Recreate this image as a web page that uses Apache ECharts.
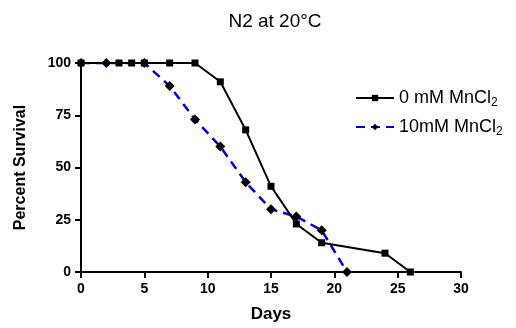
<!DOCTYPE html>
<html>
<head>
<meta charset="utf-8">
<script src="https://cdn.jsdelivr.net/npm/echarts@6/dist/echarts.min.js"></script>
<style>
  html, body { margin: 0; padding: 0; background: #fff; }
  #chart { width: 516px; height: 328px; }
</style>
</head>
<body>
<div id="chart"></div>
<script>
// survival data
const daysCtrl = [0, 3, 4, 5, 7, 9, 11, 13, 15, 17, 19, 24, 26];
const survCtrl = [100, 100, 100, 100, 100, 100, 91, 68, 41, 23, 14, 9, 0];
const daysMn = [0, 2, 5, 7, 9, 11, 13, 15, 17, 19, 21];
const survMn = [100, 100, 100, 89, 73, 60, 43, 30, 26.5, 20, 0];
const seriesNames = ['0 mM MnCl2', '10mM MnCl2'];
const xTicks = [0, 5, 10, 15, 20, 25, 30];
const yTicks = [0, 25, 50, 75, 100];

const chart = echarts.init(document.getElementById('chart'));
const font = 'Liberation Sans, Arial, sans-serif';

const axisCommon = {
  axisLine: { show: true, lineStyle: { color: '#000', width: 2 } },
  axisTick: { show: true, length: 6, lineStyle: { color: '#000', width: 2 } },
  splitLine: { show: false },
  axisLabel: { color: '#000', fontWeight: 'bold', fontSize: 14, fontFamily: font }
};

chart.setOption({
  animation: false,
  title: {
    text: 'N2 at 20\u00B0C',
    left: 270,
    textAlign: 'center',
    top: 7,
    textStyle: { fontSize: 19, fontWeight: 'normal', color: '#000', fontFamily: font }
  },
  grid: { left: 81, right: 55, top: 63, bottom: 55 },
  legend: {
    orient: 'vertical',
    left: 350,
    top: 84,
    itemWidth: 38,
    itemHeight: 8,
    itemGap: 9,
    data: seriesNames,
    formatter: (n) => '{a|' + n.slice(0, -1) + '}{s|2}',
    textStyle: {
      color: '#000',
      fontFamily: font,
      rich: {
        a: { fontSize: 18, color: '#000', fontFamily: font },
        s: { fontSize: 12, color: '#000', fontFamily: font, padding: [10, 0, 0, 0] }
      }
    }
  },
  xAxis: Object.assign({}, axisCommon, {
    type: 'value',
    min: xTicks[0],
    max: xTicks[xTicks.length - 1],
    interval: 5,
    name: 'Days',
    nameLocation: 'middle',
    nameGap: 34,
    nameTextStyle: { fontWeight: 'bold', fontSize: 17, color: '#000', fontFamily: font },
    axisLabel: Object.assign({}, axisCommon.axisLabel, { margin: 10 })
  }),
  yAxis: Object.assign({}, axisCommon, {
    type: 'value',
    min: yTicks[0],
    max: yTicks[yTicks.length - 1],
    interval: 25,
    name: 'Percent Survival',
    nameLocation: 'middle',
    nameGap: 52,
    nameTextStyle: { fontWeight: 'bold', fontSize: 16, color: '#000', fontFamily: font },
    axisLabel: Object.assign({}, axisCommon.axisLabel, { margin: 10 })
  }),
  series: [
    {
      name: seriesNames[0],
      type: 'line',
      data: daysCtrl.map((d, i) => [d, survCtrl[i]]),
      symbol: 'rect',
      symbolSize: 7,
      itemStyle: { color: '#000' },
      lineStyle: { color: '#000', width: 2 },
      z: 3
    },
    {
      name: seriesNames[1],
      type: 'line',
      data: daysMn.map((d, i) => [d, survMn[i]]),
      symbol: 'diamond',
      symbolSize: 10,
      itemStyle: { color: '#000' },
      lineStyle: { color: '#0000cc', width: 2.5, type: [9, 6] },
      z: 2
    }
  ]
});
</script>
</body>
</html>
